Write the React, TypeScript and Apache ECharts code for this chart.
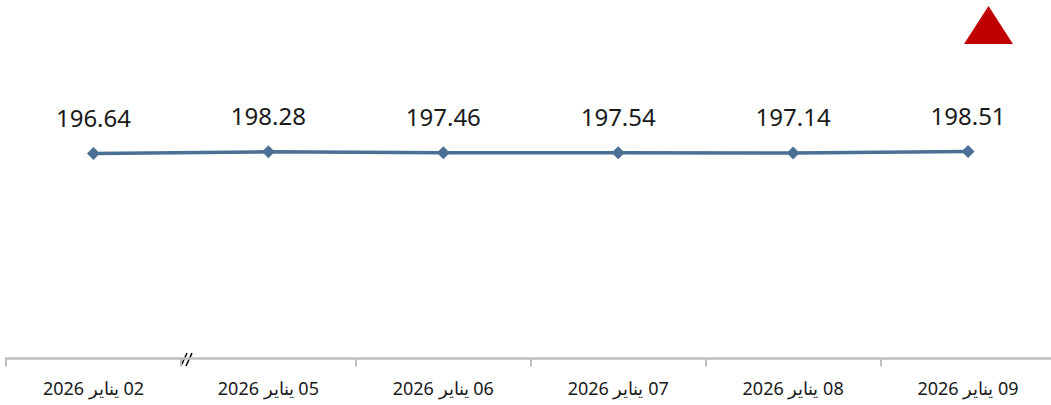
import React, { useEffect, useRef } from "react";
import * as echarts from "echarts";

const categories = [
  "02 يناير 2026",
  "05 يناير 2026",
  "06 يناير 2026",
  "07 يناير 2026",
  "08 يناير 2026",
  "09 يناير 2026",
];
const values = [196.64, 198.28, 197.46, 197.54, 197.14, 198.51];

export default function App() {
  const ref = useRef<HTMLDivElement>(null);
  useEffect(() => {
    if (!ref.current) return;
    const chart = echarts.init(ref.current, undefined, { renderer: "svg" });
    chart.setOption({
      animation: false,
      backgroundColor: "#ffffff",
      grid: { left: 6, top: 0, right: 4.5, height: 358.5 },
      xAxis: {
        type: "category",
        data: categories,
        boundaryGap: true,
        axisLine: { lineStyle: { color: "#bfbfbf", width: 2.5 } },
        axisTick: { show: true, length: 8, lineStyle: { color: "#bfbfbf", width: 2 } },
        axisLabel: {
          color: "#1a1a1a",
          fontSize: 18,
          fontFamily: "Noto Sans",
          margin: 20,
        },
      },
      yAxis: {
        type: "value",
        min: 0,
        max: 344,
        show: false,
        splitLine: { show: false },
      },
      series: [
        {
          type: "line",
          data: values,
          symbol: "diamond",
          symbolSize: 13,
          lineStyle: { color: "#4a7095", width: 3.5 },
          itemStyle: { color: "#4a7095" },
          label: {
            show: true,
            position: "top",
            distance: 18,
            color: "#1a1a1a",
            fontSize: 24,
            fontFamily: "Noto Sans",
            formatter: (p: any) => p.value.toFixed(2),
          },
        },
      ],
      graphic: [
        {
          type: "polygon",
          shape: { points: [[964, 44], [988.5, 6], [1013, 44]] },
          style: { fill: "#c00000" },
        },
        {
          type: "line",
          shape: { x1: 181, y1: 366, x2: 187, y2: 353 },
          style: { stroke: "#000000", lineWidth: 1.5 },
        },
        {
          type: "line",
          shape: { x1: 186, y1: 366, x2: 192, y2: 353 },
          style: { stroke: "#000000", lineWidth: 1.5 },
        },
      ],
    });
    return () => chart.dispose();
  }, []);
  return (
    <div
      style={{
        position: "absolute",
        left: 0,
        top: 0,
        width: 1051,
        height: 405,
        overflow: "hidden",
      }}
    >
      <div
        ref={ref}
        style={{
          position: "absolute",
          left: 0,
          top: 0,
          width: 1060,
          height: 405,
          direction: "rtl",
        }}
      />
    </div>
  );
}
